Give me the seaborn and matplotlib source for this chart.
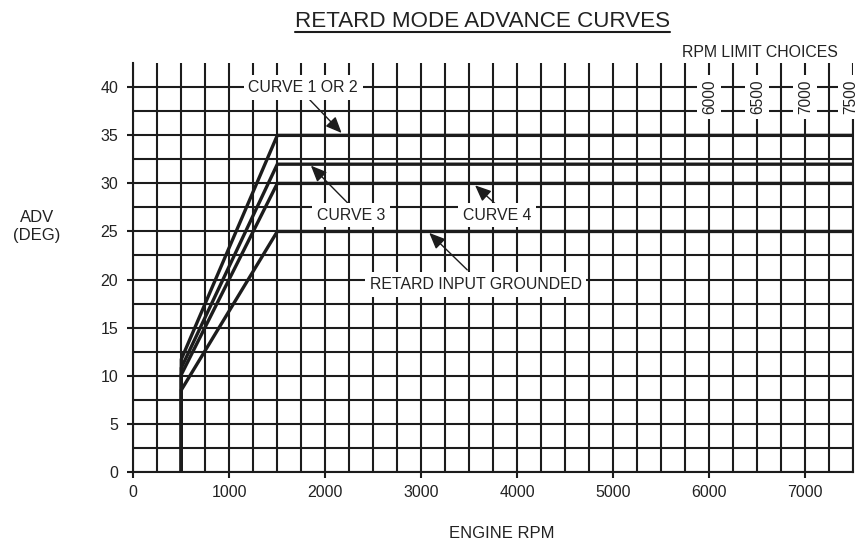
import numpy as np
import pandas as pd
import matplotlib
matplotlib.use("Agg")
import matplotlib.pyplot as plt
from matplotlib.lines import Line2D
from matplotlib.transforms import offset_copy
import seaborn as sns

# ---------------- data ----------------
curve_names = ["CURVE 1 OR 2", "CURVE 3", "CURVE 4", "RETARD INPUT GROUNDED"]
idle_rpm = 500
ramp_end_rpm = 1500
max_rpm = 7500
start_adv = [11.7, 10.8, 10.1, 8.5]
max_adv = [35, 32, 30, 25]
rpm_limits = [6000, 6500, 7000, 7500]
x_ticks = [0, 1000, 2000, 3000, 4000, 5000, 6000, 7000]
y_ticks = [0, 5, 10, 15, 20, 25, 30, 35, 40]

# annotation label positions (rpm, deg) and arrow tail / head
label_pos = [(1770, 40.0), (2270, 26.7), (3790, 26.7), (3565, 19.5)]
arrow_tail = [(1790, 39.2), (2240, 27.9), (3768, 27.9), (3479, 21.0)]
arrow_head = [(2170, 35.25), (1850, 31.85), (3560, 29.8), (3083, 24.85)]

rows = []
for i, (name, s, m) in enumerate(zip(curve_names, start_adv, max_adv)):
    for rpm, adv in [(idle_rpm, 0), (idle_rpm, s), (ramp_end_rpm, m), (max_rpm, m)]:
        rows.append({"curve": name, "rpm": rpm, "adv": adv})
df = pd.DataFrame(rows)

# ---------------- style ----------------
sns.set_theme(style="white")
plt.rcParams["font.family"] = ["Liberation Sans", "DejaVu Sans"]
INK = "#1c1c1c"
TXT = "#222222"

W, H = 859, 543
fig = plt.figure(figsize=(W / 100, H / 100), dpi=100)
x0px, x1px = 133.3, 853.3
ybot, ytop = 471.7, 63.3
ax = fig.add_axes([x0px / W, (H - ybot) / H, (x1px - x0px) / W, (ybot - ytop) / H])

sns.lineplot(data=df, x="rpm", y="adv", hue="curve", units="curve",
             estimator=None, sort=False, palette=[INK] * 4, legend=False,
             lw=2.4, ax=ax, zorder=2.2)

ax.set_xlim(0, 7500)
ax.set_ylim(0, 42.5)
ax.set_xticks(x_ticks)
ax.set_yticks(y_ticks)
ax.set_xticks(np.arange(0, 7501, 250), minor=True)
ax.set_yticks(np.arange(0, 40.01, 2.5), minor=True)
ax.set_xticklabels([str(v) for v in x_ticks])
ax.set_yticklabels([str(v) for v in y_ticks])
ax.grid(which="both", color=INK, lw=1.5)
ax.tick_params(which="minor", length=0)
ax.tick_params(axis="x", which="major", direction="out", length=4, width=1.5,
               color=INK, pad=5.5, labelsize=11.5, labelcolor=TXT, bottom=True)
ax.tick_params(axis="y", which="major", direction="out", length=4, width=1.5,
               color=INK, pad=7, labelsize=11.5, labelcolor=TXT, left=True)
ax.set_xlabel("")
ax.set_ylabel("")
for side in ["left", "bottom", "right"]:
    ax.spines[side].set_visible(True)
    ax.spines[side].set_color(INK)
    ax.spines[side].set_linewidth(1.5)
ax.spines["top"].set_visible(False)
ax.spines["right"].set_bounds(0, 40)

# annotations
box = dict(boxstyle="square,pad=0.3", fc="white", ec="none")
for name, (lx, ly), t, h in zip(curve_names, label_pos, arrow_tail, arrow_head):
    ax.annotate("", xy=h, xytext=t,
                arrowprops=dict(arrowstyle="-|>,head_length=0.65,head_width=0.28",
                                mutation_scale=15, lw=1.0, color=INK,
                                shrinkA=0, shrinkB=0), zorder=3)
    ax.text(lx, ly, name, ha="center", va="center", fontsize=11.4, color=TXT,
            bbox=box, zorder=4)

# RPM limit labels (last one nudged left so it stays inside the figure)
for r in rpm_limits:
    shift = -3 if r == rpm_limits[-1] else 0
    tr = offset_copy(ax.transData, fig=fig, x=shift, y=0, units="dots")
    ax.text(r, 39.0, str(r), rotation=90, ha="center", va="center",
            fontsize=11.2, color=TXT, zorder=4, clip_on=False, transform=tr,
            bbox=dict(boxstyle="square,pad=0.3", fc="white", ec="none"))

fig.text(760 / W, 1 - 52.5 / H, "RPM LIMIT CHOICES", ha="center", va="center",
         fontsize=11.4, color=TXT)

# title with underline
title = fig.text(482.5 / W, 1 - 21.7 / H, "RETARD MODE ADVANCE CURVES",
                 ha="center", va="center", fontsize=16.1, color=TXT)
fig.canvas.draw()
bb = title.get_window_extent()
uy = 1 - 32.3 / H
fig.add_artist(Line2D([bb.x0 / W, bb.x1 / W], [uy, uy], transform=fig.transFigure,
                      color=INK, lw=1.5))

fig.text(37 / W, 1 - 226.7 / H, "ADV\n(DEG)", ha="center", va="center",
         fontsize=12, color=TXT, linespacing=1.25)
fig.text(502 / W, 1 - 533 / H, "ENGINE RPM", ha="center", va="center",
         fontsize=12, color=TXT)

fig.savefig("out.png", dpi=100)
